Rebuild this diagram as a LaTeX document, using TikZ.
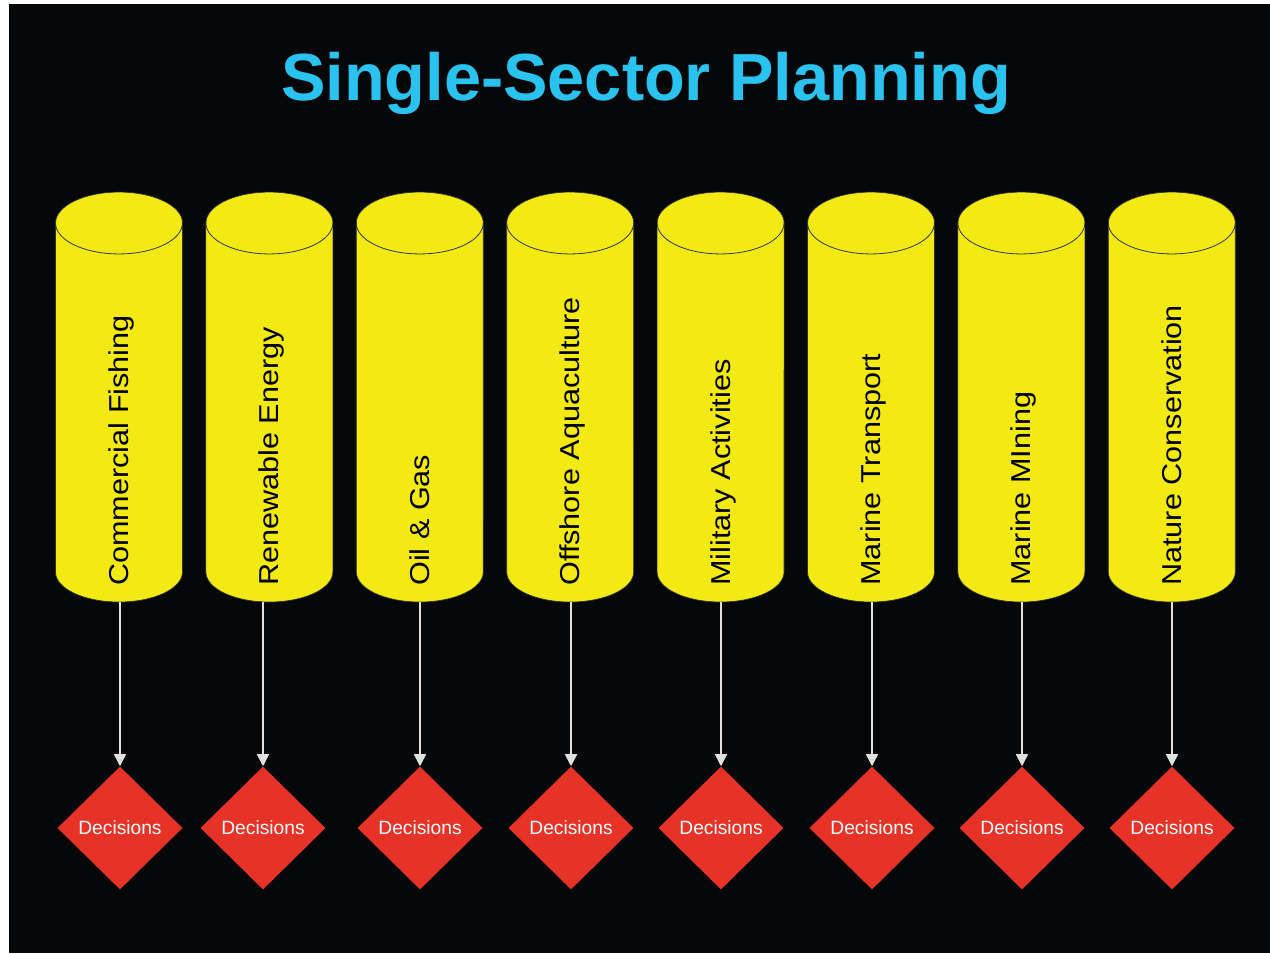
\documentclass[tikz,border=0pt]{standalone}
\usepackage{fontspec}
\setmainfont{Liberation Sans}
\usetikzlibrary{shapes.geometric,arrows.meta}
\definecolor{bg}{HTML}{060709}
\definecolor{sectoryellow}{HTML}{F2EA12}
\definecolor{decisionred}{HTML}{E63227}
\definecolor{titlecyan}{HTML}{2AC2EF}
\begin{document}
\begin{tikzpicture}[x=.75pt,y=-.75pt,
  sector/.style={inner sep=0pt,minimum width=95.25pt,minimum height=307.5pt},
  sectorshape/.style={fill=sectoryellow,draw=black!80,line width=.5pt},
  sectortext/.style={rotate=90,xscale=1.12,anchor=base west,inner sep=0pt,
    font=\fontsize{20.5}{24}\selectfont},
  decision/.style={diamond,fill=decisionred,minimum width=93.75pt,minimum height=92.25pt,
    inner sep=0pt,text=white,font=\fontsize{14.4}{17}\selectfont},
  flow/.style={draw=white!88!black,line width=1.1pt,-{Triangle[width=9pt,length=9pt]}}]
\useasboundingbox(0,0)rectangle(1270,953);
\fill[white](0,0)rectangle(1270,953);
\fill[bg](9,4)rectangle(1270,953);
\node[anchor=base,text=titlecyan,font=\bfseries\fontsize{50}{60}\selectfont](title)at(646,100){Single-Sector Planning};
\foreach \n/\cx/\dx/\txt in {1/119/120/Commercial Fishing,2/269.4/263/Renewable Energy,
  3/419.8/420/Oil \& Gas,4/570.2/571/Offshore Aquaculture,5/720.6/721/Military Activities,
  6/871/872/Marine Transport,7/1021.4/1022/Marine MIning,8/1171.8/1172/Nature Conservation}{
\node[sector](c\n)at(\cx,397){};
% cylinder body and top rim
\draw[sectorshape](\cx-63.5,223)--(\cx-63.5,572)arc(180:360:47.6pt and 22.5pt)
  --(\cx+63.5,223)arc(0:180:47.6pt and 23.2pt)--cycle;
\draw[black!80,line width=.6pt](\cx-63.5,223)arc(180:360:47.6pt and 23.2pt);
\node[sectortext](t\n)at(\cx+9.5,586){\txt};
\node[decision](d\n)at(\dx,828){Decisions};
\draw[flow](c\n.south -| d\n.north)--(d\n.north);
}
\end{tikzpicture}
\end{document}
